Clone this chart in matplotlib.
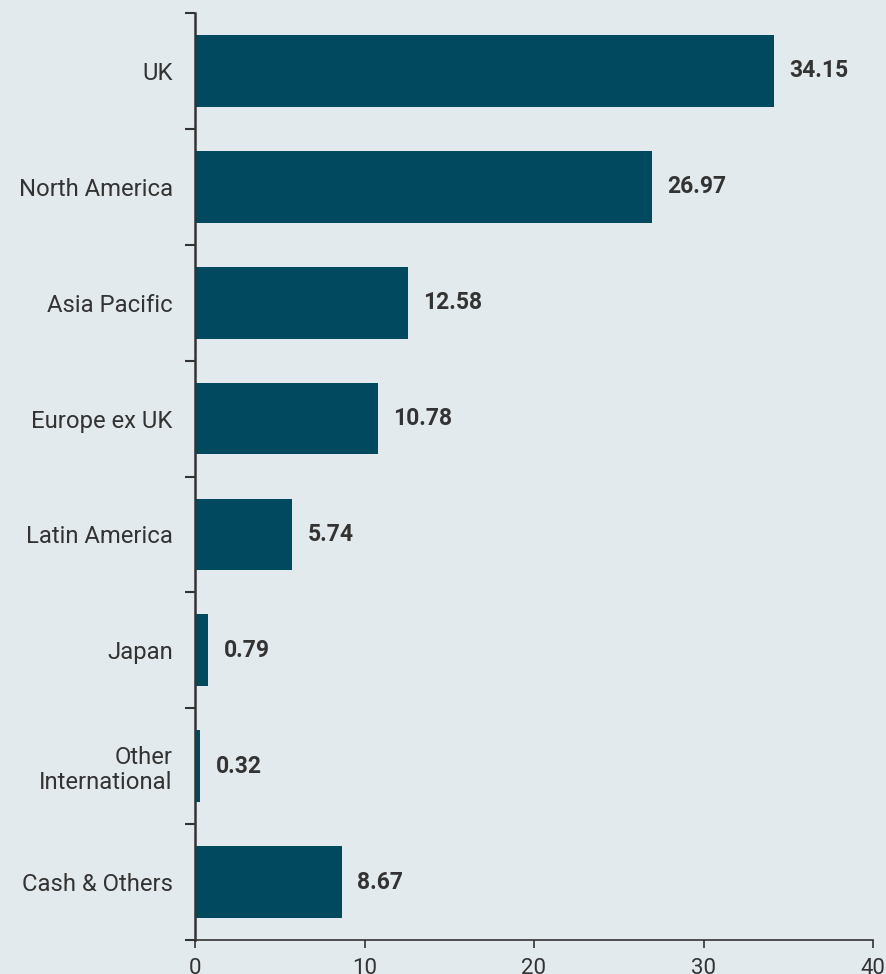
import matplotlib
matplotlib.use("Agg")
import matplotlib.pyplot as plt
import numpy as np

categories = ["UK", "North America", "Asia Pacific", "Europe ex UK", "Latin America",
              "Japan", "Other\nInternational", "Cash & Others"]
values = [34.15, 26.97, 12.58, 10.78, 5.74, 0.79, 0.32, 8.67]
xticks = [0, 10, 20, 30, 40]

bg = "#e3eaed"
bar_color = "#00495e"
text_color = "#333333"

plt.rcParams['font.family'] = ['Roboto', 'DejaVu Sans']

fig = plt.figure(figsize=(8.87, 9.74), dpi=100, facecolor=bg)
ax = fig.add_axes([195/887, 1-940/974, (873-195)/887, (940-13)/974], facecolor=bg)

n = len(categories)
y = np.arange(n)
ax.barh(y, values, height=0.62, color=bar_color, zorder=2)
for yi, v in zip(y, values):
    ax.text(v + 0.9, yi, f"{v:.2f}", va="center", ha="left", fontsize=16.5,
            fontweight="bold", color=text_color)

ax.set_ylim(n - 0.5, -0.5)
ax.set_xlim(0, 40)
ax.set_yticks(y)
ax.set_yticklabels(categories, fontsize=17.2, color=text_color, linespacing=1.12)
ax.set_yticks(np.arange(-0.5, n, 1), minor=True)
ax.tick_params(axis="y", which="major", length=0, pad=16)
ax.tick_params(axis="y", which="minor", length=7, width=1.5, color=text_color, direction="out")
ax.set_xticks(xticks)
ax.set_xticklabels([str(t) for t in xticks], fontsize=16, color=text_color)
ax.tick_params(axis="x", length=6, width=1.2, color=text_color, pad=7)

for s in ["top", "right"]:
    ax.spines[s].set_visible(False)
ax.spines["left"].set_color(text_color)
ax.spines["left"].set_linewidth(1.8)
ax.spines["bottom"].set_color(text_color)
ax.spines["bottom"].set_linewidth(1.2)
for lbl in ax.get_yticklabels():
    lbl.set_horizontalalignment("right")

fig.savefig("out.png", dpi=100, facecolor=bg)
